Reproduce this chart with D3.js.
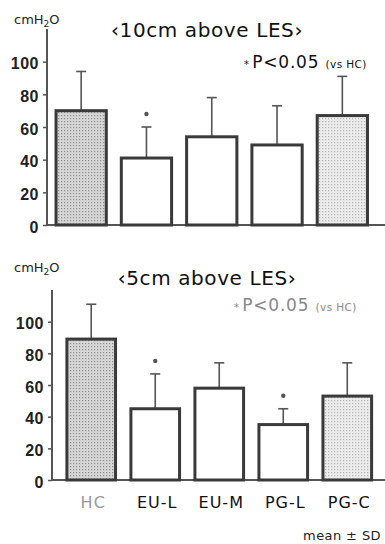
<!DOCTYPE html>
<html>
<head>
<meta charset="utf-8">
<script src="https://cdn.jsdelivr.net/npm/d3@7"></script>
<style>
  body { margin: 0; background: #fff; }
  svg { display: block; font-family: "DejaVu Sans", sans-serif; }
</style>
</head>
<body>
<svg id="chart" width="385" height="544"></svg>
<script>
// data
var groups = ["HC", "EU-L", "EU-M", "PG-L", "PG-C"];
var fills = ["dark", "none", "none", "none", "light"];
var yTicks = [0, 20, 40, 60, 80, 100];

var mean10 = [70, 41, 54, 49, 67];
var sd10 = [24, 19, 24, 24, 24];
var sig10 = [0, 1, 0, 0, 0];

var mean5 = [89, 45, 58, 35, 53];
var sd5 = [22, 22, 16, 10, 21];
var sig5 = [0, 1, 0, 1, 0];

var svg = d3.select("#chart");

// stipple fills
var defs = svg.append("defs");
function dots(id, bg, fg) {
  var p = defs.append("pattern").attr("id", id)
    .attr("width", 3).attr("height", 3)
    .attr("patternUnits", "userSpaceOnUse");
  p.append("rect").attr("width", 3).attr("height", 3).attr("fill", bg);
  p.append("rect").attr("x", 1).attr("y", 1).attr("width", 1.2).attr("height", 1.2).attr("fill", fg);
}
dots("dotDark", "#d6d6d6", "#8e8e8e");
dots("dotLight", "#ececec", "#b4b4b4");

function fillOf(f) {
  if (f === "dark") return "url(#dotDark)";
  if (f === "light") return "url(#dotLight)";
  return "#fff";
}

function panel(opt) {
  var g = svg.append("g");
  var y = d3.scaleLinear().domain([0, 120]).range(opt.yRange);
  var x = d3.scaleBand().domain(groups).range(opt.xRange)
    .paddingInner(opt.pad).paddingOuter(0.1);

  // y axis
  var ax = g.append("g")
    .attr("transform", "translate(" + opt.axisX + ",0)")
    .call(d3.axisLeft(y).tickValues(yTicks).tickSize(4).tickPadding(4));
  ax.select(".domain").remove();
  ax.selectAll(".tick line").attr("stroke", "#555").attr("stroke-width", 1.5);
  ax.selectAll(".tick text")
    .attr("font-size", 16).attr("font-weight", "bold").attr("fill", "#222")
    .attr("letter-spacing", 0.5)
    .attr("dy", "0.45em");

  g.append("line")
    .attr("x1", opt.axisX).attr("x2", opt.axisX)
    .attr("y1", y(0)).attr("y2", y(120))
    .attr("stroke", "#555").attr("stroke-width", 2);
  g.append("line")
    .attr("x1", opt.axisX - 1).attr("x2", 385)
    .attr("y1", y(0)).attr("y2", y(0))
    .attr("stroke", "#555").attr("stroke-width", 2);

  var rows = groups.map(function(k, i) {
    return { k: k, m: opt.mean[i], sd: opt.sd[i], sig: opt.sig[i], f: fills[i] };
  });

  // error bars (drawn first so the bar outline covers the stem)
  var eb = g.selectAll(".eb").data(rows).enter().append("g");
  eb.append("line")
    .attr("x1", function(d) { return x(d.k) + x.bandwidth() / 2; })
    .attr("x2", function(d) { return x(d.k) + x.bandwidth() / 2; })
    .attr("y1", function(d) { return y(d.m); })
    .attr("y2", function(d) { return y(d.m + d.sd); })
    .attr("stroke", "#555").attr("stroke-width", 1.6);
  eb.append("line")
    .attr("x1", function(d) { return x(d.k) + x.bandwidth() / 2 - 5; })
    .attr("x2", function(d) { return x(d.k) + x.bandwidth() / 2 + 5; })
    .attr("y1", function(d) { return y(d.m + d.sd); })
    .attr("y2", function(d) { return y(d.m + d.sd); })
    .attr("stroke", "#555").attr("stroke-width", 1.6);

  g.selectAll(".bar").data(rows).enter().append("rect")
    .attr("x", function(d) { return x(d.k); })
    .attr("y", function(d) { return y(d.m); })
    .attr("width", x.bandwidth())
    .attr("height", function(d) { return y(0) - y(d.m); })
    .attr("fill", function(d) { return fillOf(d.f); })
    .attr("stroke", "#3a3a3a").attr("stroke-width", 3);

  // significance marks
  g.selectAll(".sig").data(rows.filter(function(d) { return d.sig; })).enter()
    .append("circle")
    .attr("cx", function(d) { return x(d.k) + x.bandwidth() / 2; })
    .attr("cy", function(d) { return y(d.m + d.sd) - 13; })
    .attr("r", 2.2)
    .attr("fill", "#555");

  // unit + title
  var u = g.append("text").attr("x", 14).attr("y", opt.titleY - 13)
    .attr("font-size", 13).attr("fill", "#222");
  u.append("tspan").text("cmH");
  u.append("tspan").attr("font-size", 9).attr("dy", 3).text("2");
  u.append("tspan").attr("dy", -3).text("O");

  g.append("text").attr("x", 207).attr("y", opt.titleY)
    .attr("text-anchor", "middle").attr("font-size", 20).attr("fill", "#111")
    .attr("letter-spacing", 0.6)
    .text(opt.title);

  // p-value note
  var n = g.append("text").attr("x", opt.noteX).attr("y", opt.noteY)
    .attr("fill", opt.noteColor);
  n.append("tspan").attr("font-size", 10).text("* ");
  n.append("tspan").attr("font-size", 17).attr("letter-spacing", 0.8).text("P<0.05 ");
  n.append("tspan").attr("font-size", 10.5).attr("letter-spacing", 0.4).text("(vs HC)");

  return x;
}

panel({
  title: "‹10cm above LES›", titleY: 37,
  mean: mean10, sd: sd10, sig: sig10,
  yRange: [225, 29], xRange: [49.5, 374], pad: 0.23, axisX: 47,
  noteX: 244, noteY: 68, noteColor: "#111"
});

var xb = panel({
  title: "‹5cm above LES›", titleY: 285,
  mean: mean5, sd: sd5, sig: sig5,
  yRange: [480, 290], xRange: [60.5, 378], pad: 0.24, axisX: 52,
  noteX: 234, noteY: 311, noteColor: "#888"
});

// category labels under the lower panel
svg.append("g").selectAll("text").data(groups).enter().append("text")
  .attr("x", function(d) { return xb(d) + xb.bandwidth() / 2 + 2; })
  .attr("y", 508)
  .attr("text-anchor", "middle").attr("font-size", 16).attr("letter-spacing", 1)
  .attr("fill", function(d) { return d === "HC" ? "#999" : "#111"; })
  .text(function(d) { return d; });

svg.append("text").attr("x", 381).attr("y", 540)
  .attr("text-anchor", "end").attr("font-size", 13).attr("fill", "#222")
  .attr("letter-spacing", 0.4)
  .text("mean ± SD");
</script>
</body>
</html>
